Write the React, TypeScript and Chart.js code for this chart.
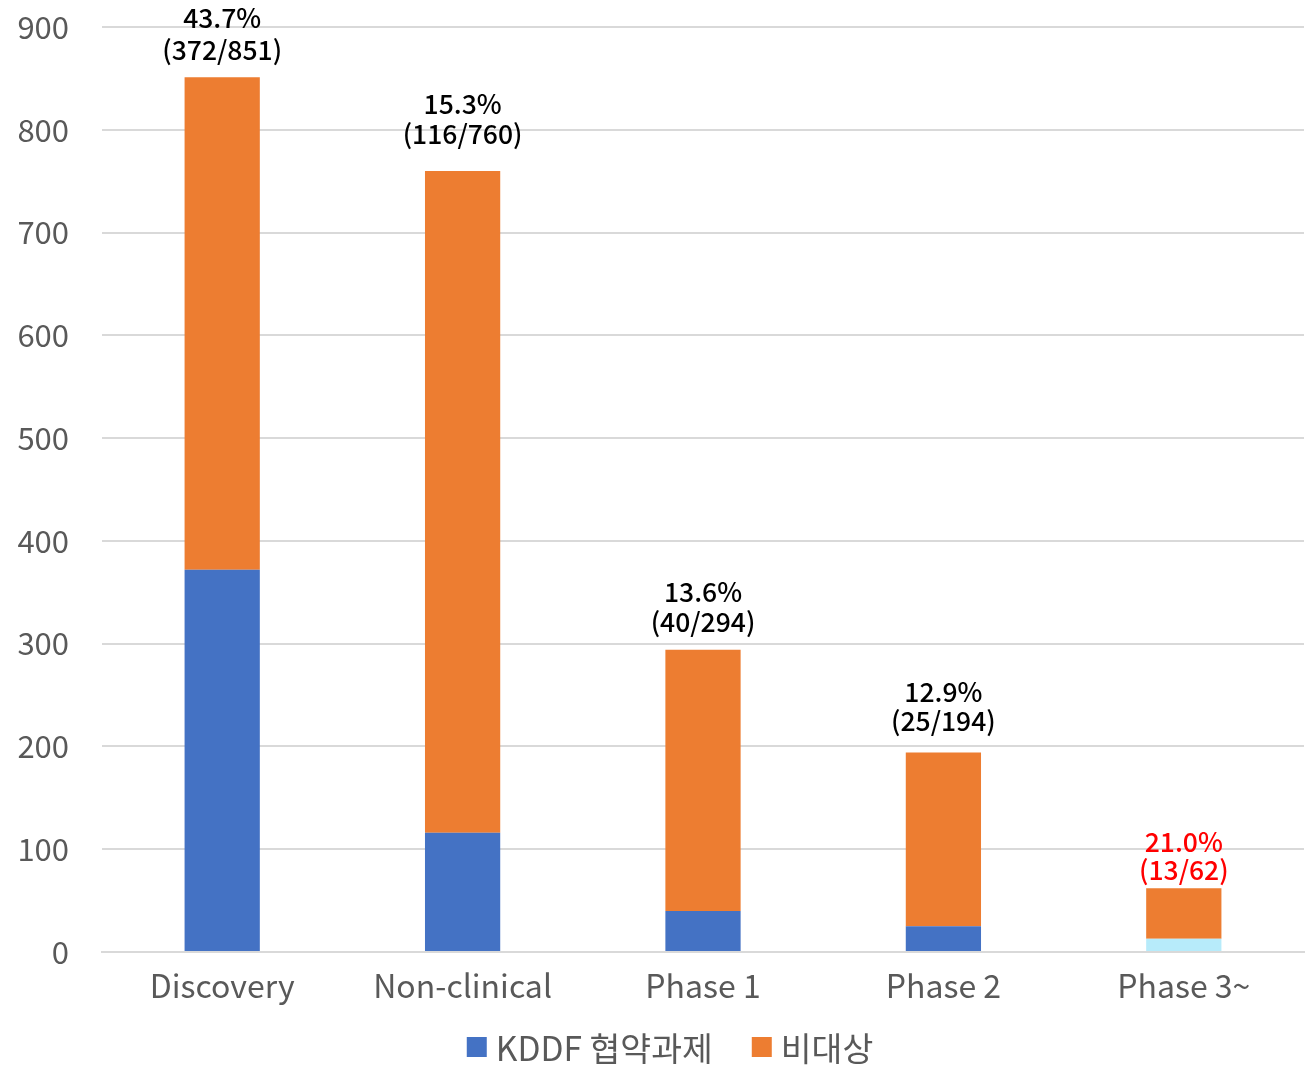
import React, { useEffect, useRef } from "react";
import { Chart, registerables } from "chart.js";

Chart.register(...registerables);

const categories = ["Discovery", "Non-clinical", "Phase 1", "Phase 2", "Phase 3~"];
const kddfValues = [372, 116, 40, 25, 13];
const otherValues = [479, 644, 254, 169, 49];
const totals = [851, 760, 294, 194, 62];
const percentLabels = ["43.7%", "15.3%", "13.6%", "12.9%", "21.0%"];
const ratioLabels = ["(372/851)", "(116/760)", "(40/294)", "(25/194)", "(13/62)"];
const labelColors = ["#000000", "#000000", "#000000", "#000000", "#ff0000"];
const kddfColors = ["#4472c4", "#4472c4", "#4472c4", "#4472c4", "#b7ebfa"];
const seriesNames = ["KDDF 협약과제", "비대상"];
const seriesColors = ["#4472c4", "#ed7d31"];

const FONT = "'Noto Sans CJK KR', 'Noto Sans', sans-serif";

const topLabelPlugin = {
  id: "topLabels",
  afterDatasetsDraw(chart: any, _args: any, opts: any) {
    const ctx = chart.ctx;
    const meta = chart.getDatasetMeta(1);
    const upper: number[] = opts.upperGaps || [];
    const lower: number[] = opts.lowerGaps || [];
    ctx.save();
    ctx.textAlign = "center";
    ctx.textBaseline = "middle";
    ctx.font = `500 26.5px ${FONT}`;
    meta.data.forEach((bar: any, i: number) => {
      const x = bar.x;
      const y = chart.scales.y.getPixelForValue(totals[i]);
      ctx.fillStyle = labelColors[i];
      ctx.fillText(percentLabels[i], x, y - (upper[i] ?? 59));
      ctx.fillText(ratioLabels[i], x, y - (lower[i] ?? 27));
    });
    ctx.restore();
  },
};

const legendPlugin = {
  id: "customLegend",
  afterDraw(chart: any) {
    const ctx = chart.ctx;
    ctx.save();
    ctx.font = `33.5px ${FONT}`;
    ctx.textBaseline = "middle";
    ctx.textAlign = "left";
    const box = 20;
    const gap = 9;
    const spacing = 39;
    const widths = seriesNames.map((t) => ctx.measureText(t).width);
    const total = widths.reduce((a, w) => a + box + gap + w, 0) + spacing * (seriesNames.length - 1);
    let x = chart.width / 2 + 13 - total / 2;
    const cy = chart.height - 19;
    seriesNames.forEach((t, i) => {
      ctx.fillStyle = seriesColors[i];
      ctx.fillRect(x, cy - box / 2, box, box);
      x += box + gap;
      ctx.fillStyle = "#595959";
      ctx.fillText(t, x, cy + 1);
      x += widths[i] + spacing;
    });
    ctx.restore();
  },
};

export default function App() {
  const ref = useRef<HTMLCanvasElement>(null);
  useEffect(() => {
    document.body.style.margin = "0";
    const chart = new Chart(ref.current!, {
      type: "bar",
      data: {
        labels: categories,
        datasets: [
          {
            label: seriesNames[0],
            data: kddfValues,
            backgroundColor: kddfColors,
            barPercentage: 1,
            categoryPercentage: 0.313,
          },
          {
            label: seriesNames[1],
            data: otherValues,
            backgroundColor: seriesColors[1],
            barPercentage: 1,
            categoryPercentage: 0.313,
          },
        ],
      },
      options: {
        animation: false,
        responsive: false,
        maintainAspectRatio: false,
        layout: { padding: { top: 27, right: 10, left: 0, bottom: 58 } },
        scales: {
          x: {
            stacked: true,
            grid: { display: false },
            border: { display: true, color: "#d9d9d9", width: 2 },
            ticks: { color: "#595959", font: { family: FONT, size: 32 }, padding: 7 },
            afterFit(s: any) {
              s.height = 56;
              s.paddingLeft = 0;
              s.paddingRight = 0;
            },
          },
          y: {
            stacked: true,
            min: 0,
            max: 900,
            ticks: { stepSize: 100, color: "#595959", font: { family: FONT, size: 31 }, padding: 33 },
            grid: { color: "#d9d9d9", lineWidth: 2, drawTicks: false },
            border: { display: false },
            afterFit(s: any) {
              s.width = 102;
              s.paddingTop = 0;
              s.paddingBottom = 0;
            },
          },
        },
        plugins: {
          legend: { display: false },
          tooltip: { enabled: false },
          topLabels: {
            upperGaps: [59, 67, 58, 61, 46],
            lowerGaps: [27, 37, 28, 32, 18],
          },
        } as any,
      },
      plugins: [topLabelPlugin, legendPlugin],
    });
    return () => chart.destroy();
  }, []);
  return (
    <div style={{ width: 1314, height: 1066 }}>
      <canvas ref={ref} width={1314} height={1066} style={{ width: 1314, height: 1066 }} />
    </div>
  );
}
